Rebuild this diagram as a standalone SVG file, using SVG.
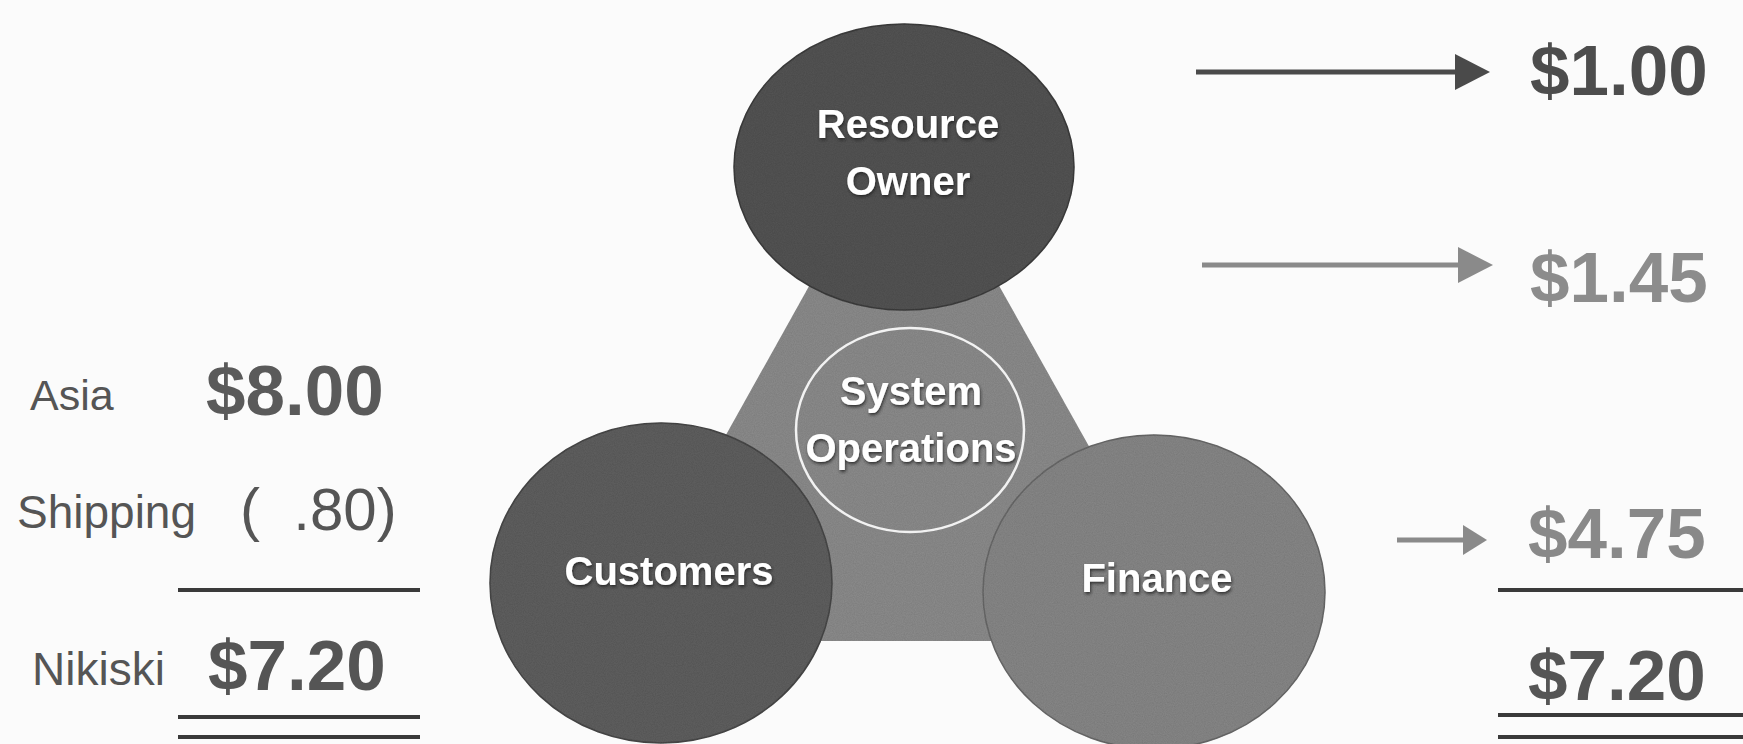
<svg xmlns="http://www.w3.org/2000/svg" width="1743" height="744" viewBox="0 0 1743 744">
<defs>
<filter id="grain" x="-5%" y="-5%" width="110%" height="110%">
<feTurbulence type="fractalNoise" baseFrequency="0.9" numOctaves="2" seed="3" result="n"/>
<feColorMatrix in="n" type="matrix" values="0 0 0 0 0  0 0 0 0 0  0 0 0 0 0  0 0 0 0.25 0" result="nd"/>
<feComposite in="nd" in2="SourceGraphic" operator="in" result="nc"/>
<feMerge><feMergeNode in="SourceGraphic"/><feMergeNode in="nc"/></feMerge>
</filter>
<filter id="tshadow" x="-10%" y="-20%" width="120%" height="150%">
<feDropShadow dx="1" dy="2" stdDeviation="1.5" flood-color="#222" flood-opacity="0.8"/>
</filter>
<style>
.node-label{font-family:"Liberation Sans",Arial,sans-serif;font-weight:bold;font-size:40px;fill:#ffffff;text-anchor:middle;filter:url(#tshadow)}
.amt{font-family:"Liberation Sans",Arial,sans-serif;font-weight:bold;font-size:71px}
.lbl{font-family:"Liberation Sans",Arial,sans-serif;fill:#555555}
.rule{stroke:#3a3a3a;stroke-width:4}
.dark{fill:#4a4a4a}
.light{fill:#8a8a8a}
</style>
</defs>
<rect width="1743" height="744" fill="#fbfbfb"/>

<g id="system-triangle">
<polygon points="904,116 611,641 1198,641" fill="#8d8d8d" filter="url(#grain)"/>
</g>

<g id="resource-owner">
<ellipse cx="904" cy="167" rx="170" ry="143" fill="#545454" stroke="#3e3e3e" stroke-width="1.5" filter="url(#grain)"/>
<text class="node-label" x="908" y="138">Resource</text>
<text class="node-label" x="908" y="195">Owner</text>
</g>

<g id="system-operations">
<ellipse cx="910" cy="430" rx="114" ry="102" fill="none" stroke="#f2f2f2" stroke-width="2.5"/>
<text class="node-label" x="911" y="405">System</text>
<text class="node-label" x="911" y="462">Operations</text>
</g>

<g id="customers">
<ellipse cx="661" cy="583" rx="171" ry="160" fill="#606060" stroke="#484848" stroke-width="1.5" filter="url(#grain)"/>
<text class="node-label" x="669" y="585">Customers</text>
</g>

<g id="finance">
<ellipse cx="1154" cy="592" rx="171" ry="157" fill="#888888" stroke="#6a6a6a" stroke-width="1.5" filter="url(#grain)"/>
<text class="node-label" x="1157" y="592">Finance</text>
</g>

<g id="connectors">
<line x1="1196" y1="72" x2="1457" y2="72" stroke="#4a4a4a" stroke-width="5"/>
<polygon class="dark" points="1455,54 1490,72 1455,90"/>
<line x1="1202" y1="265" x2="1460" y2="265" stroke="#8a8a8a" stroke-width="5"/>
<polygon class="light" points="1458,247 1493,265 1458,283"/>
<line x1="1397" y1="540" x2="1465" y2="540" stroke="#8a8a8a" stroke-width="5"/>
<polygon class="light" points="1463,525 1487,540 1463,555"/>
</g>

<g id="right-amounts">
<text class="amt" x="1530" y="95" fill="#4d4d4d">$1.00</text>
<text class="amt" x="1530" y="302" fill="#8c8c8c">$1.45</text>
<text class="amt" x="1528" y="558" fill="#898989">$4.75</text>
<line class="rule" x1="1498" y1="590" x2="1743" y2="590"/>
<text class="amt" x="1528" y="700" fill="#555555">$7.20</text>
<line class="rule" x1="1498" y1="715" x2="1743" y2="715"/>
<line class="rule" x1="1498" y1="737" x2="1743" y2="737"/>
</g>

<g id="left-amounts">
<text class="lbl" x="30" y="410" font-size="43">Asia</text>
<text class="amt" x="206" y="415" fill="#5a5a5a">$8.00</text>
<text class="lbl" x="17" y="528" font-size="46">Shipping</text>
<text class="lbl" x="240" y="530" font-size="60" xml:space="preserve">(  .80)</text>
<line class="rule" x1="178" y1="590" x2="420" y2="590"/>
<text class="lbl" x="32" y="685" font-size="46">Nikiski</text>
<text class="amt" x="208" y="690" fill="#555555">$7.20</text>
<line class="rule" x1="178" y1="717" x2="420" y2="717"/>
<line class="rule" x1="178" y1="737" x2="420" y2="737"/>
</g>
</svg>
